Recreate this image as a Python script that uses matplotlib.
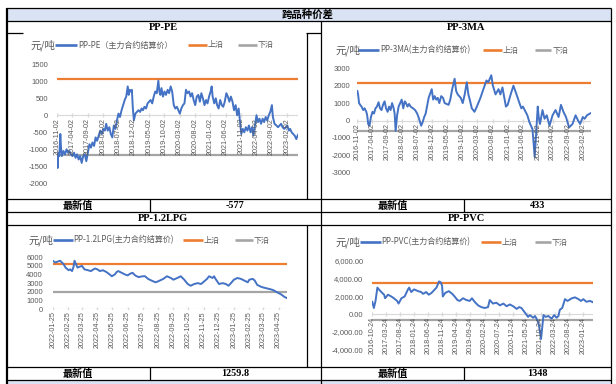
import matplotlib
matplotlib.use('Agg')
import matplotlib.pyplot as plt
import matplotlib.transforms as mtransforms
import pandas as pd

# ---------------- data ----------------
section_title = "跨品种价差"
chart_titles = ["PP-PE", "PP-3MA", "PP-1.2LPG", "PP-PVC"]
series_names = ["PP-PE（主力合约结算价）", "PP-3MA(主力合约结算价)",
                "PP-1.2LPG(主力合约结算价)", "PP-PVC(主力合约结算价)"]
latest_label = "最新值"
latest_values = ["-577", "433", "1259.8", "1348"]
unit_label = "元/吨"
upper_name = "上沿"
lower_name = "下沿"

pe_dates = ["2016-11-02", "2016-11-08", "2016-11-15", "2016-11-25", "2016-12-05", "2016-12-12", "2016-12-20",
            "2017-01-05", "2017-01-20", "2017-02-05", "2017-02-20", "2017-03-05", "2017-03-20", "2017-04-05",
            "2017-04-20", "2017-05-05", "2017-05-20", "2017-06-05", "2017-06-20", "2017-07-05", "2017-07-20",
            "2017-08-05", "2017-08-20", "2017-09-05", "2017-09-20", "2017-10-05", "2017-10-20", "2017-11-05",
            "2017-11-20", "2017-12-05", "2017-12-20", "2018-01-05", "2018-01-20", "2018-02-05", "2018-02-20",
            "2018-03-05", "2018-03-20", "2018-04-05", "2018-04-20", "2018-05-05", "2018-05-20", "2018-06-05",
            "2018-06-20", "2018-07-05", "2018-07-20", "2018-08-05", "2018-08-20", "2018-09-05", "2018-09-20",
            "2018-10-05", "2018-10-15", "2018-10-25", "2018-11-05", "2018-11-15", "2018-11-25", "2018-12-05",
            "2018-12-20", "2019-01-05", "2019-01-20", "2019-02-05", "2019-02-20", "2019-03-05", "2019-03-20",
            "2019-04-05", "2019-04-20", "2019-05-05", "2019-05-20", "2019-06-05", "2019-06-20", "2019-07-05",
            "2019-07-20", "2019-08-05", "2019-08-15", "2019-08-25", "2019-09-05", "2019-09-20", "2019-10-05",
            "2019-10-20", "2019-11-05", "2019-11-20", "2019-12-05", "2019-12-20", "2020-01-05", "2020-01-20",
            "2020-02-05", "2020-02-20", "2020-03-05", "2020-03-20", "2020-04-05", "2020-04-20", "2020-05-05",
            "2020-05-20", "2020-06-05", "2020-06-20", "2020-07-05", "2020-07-20", "2020-08-05", "2020-08-20",
            "2020-09-05", "2020-09-20", "2020-10-05", "2020-10-20", "2020-11-05", "2020-11-20", "2020-12-05",
            "2020-12-20", "2021-01-05", "2021-01-15", "2021-01-25", "2021-02-10", "2021-02-25", "2021-03-10",
            "2021-03-25", "2021-04-10", "2021-04-25", "2021-05-10", "2021-05-25", "2021-06-10", "2021-06-25",
            "2021-07-10", "2021-07-25", "2021-08-10", "2021-08-25", "2021-09-10", "2021-09-25", "2021-10-10",
            "2021-10-25", "2021-11-05", "2021-11-20", "2021-12-05", "2021-12-20", "2022-01-05", "2022-01-20",
            "2022-02-05", "2022-02-20", "2022-03-05", "2022-03-20", "2022-04-05", "2022-04-20", "2022-05-05",
            "2022-05-20", "2022-06-05", "2022-06-20", "2022-07-05", "2022-07-20", "2022-08-05", "2022-08-20",
            "2022-09-05", "2022-09-15", "2022-10-01", "2022-10-20", "2022-11-05", "2022-11-20", "2022-12-05",
            "2022-12-20", "2023-01-05", "2023-01-20", "2023-02-05", "2023-02-20", "2023-03-05", "2023-03-20",
            "2023-04-05", "2023-04-20", "2023-05-05", "2023-05-15", "2023-05-22"]
pe_values = [-1250, -1550, -1100, -1200, -550, -950, -1200,
             -1050, -1150, -1000, -1100, -1050, -1150, -1200,
             -1100, -1250, -1150, -1300, -1200, -1400, -1200,
             -1150, -1350, -1100, -850, -950, -800, -900,
             -650, -750, -600, -450, -550, -400, -450,
             -250, -450, -350, -550, -650, -300, -400,
             -150, 50, -50, 150, 300, 450, 550,
             850, 600, 750, 700, 750, 200, -150,
             50, 100, 150, 100, 200, 150, 250,
             200, 350, 400, 450, 350, 550, 700,
             650, 1020, 700, 600, 800, 550, 700,
             600, 750, 650, 850, 700, 300, 200,
             250, 150, 50, 200, 300, 350, 750,
             650, 700, 550, 650, 450, 300, 550,
             600, 400, 650, 500, 300, 450, 350,
             550, 700, 850, 550, 350, 500, 300,
             200, 450, 300, 250, 400, 650, 550,
             400, 550, 400, 150, 300, 0, 200,
             -250, -550, -400, -500, -350, -450, -300,
             -500, -350, -600, -300, 0, -200, -100,
             -250, -100, -200, -50, -150, 0, 100,
             300, -50, -250, -300, -350, -300, -250,
             -350, -400, -350, -300, -450, -400, -500,
             -550, -600, -700, -620, -577]
pe_upper = 1070
pe_lower = -1180
pe_yticks = [-2000, -1500, -1000, -500, 0, 500, 1000, 1500]
pe_ylabels = ["-2000", "-1500", "-1000", "-500", "0", "500", "1000", "1500"]

ma_dates = ["2016-11-02", "2016-11-10", "2016-11-20", "2016-12-01", "2016-12-15", "2017-01-01", "2017-01-15",
            "2017-02-01", "2017-02-10", "2017-02-20", "2017-03-05", "2017-03-20", "2017-04-05", "2017-04-20",
            "2017-05-05", "2017-05-20", "2017-06-05", "2017-06-20", "2017-07-05", "2017-07-20", "2017-08-05",
            "2017-08-20", "2017-09-05", "2017-09-20", "2017-10-05", "2017-10-20", "2017-11-05", "2017-11-15",
            "2017-11-25", "2017-12-10", "2017-12-25", "2018-01-10", "2018-01-25", "2018-02-10", "2018-02-25",
            "2018-03-10", "2018-03-25", "2018-04-10", "2018-04-25", "2018-05-20", "2018-06-10", "2018-07-01",
            "2018-07-20", "2018-08-10", "2018-08-25", "2018-09-10", "2018-09-25", "2018-10-25", "2018-11-25",
            "2018-12-10", "2018-12-25", "2019-01-10", "2019-01-25", "2019-02-10", "2019-03-01", "2019-03-20",
            "2019-04-05", "2019-05-15", "2019-06-01", "2019-06-20", "2019-07-15", "2019-07-30", "2019-08-15",
            "2019-09-15", "2019-10-05", "2019-10-25", "2019-11-15", "2019-12-01", "2019-12-15", "2020-01-05",
            "2020-02-01", "2020-02-25", "2020-04-01", "2020-05-01", "2020-06-01", "2020-06-20", "2020-07-20",
            "2020-08-05", "2020-09-01", "2020-10-01", "2020-10-20", "2020-11-10", "2020-12-15", "2021-01-02",
            "2021-02-01", "2021-03-01", "2021-04-01", "2021-05-01", "2021-05-20", "2021-06-05", "2021-07-20",
            "2021-08-10", "2021-09-10", "2021-10-02", "2021-10-12", "2021-11-02", "2021-11-12", "2021-11-25",
            "2021-12-20", "2022-01-10", "2022-02-01", "2022-03-01", "2022-04-01", "2022-05-01", "2022-06-01",
            "2022-06-25", "2022-07-20", "2022-08-15", "2022-09-15", "2022-10-20", "2022-11-20", "2022-12-15",
            "2023-01-05", "2023-02-01", "2023-02-20", "2023-03-15", "2023-04-25"]
ma_values = [1700, 1500, 1000, 900, 800, 600, 700,
             500, 300, -200, -300, 200, 500, 400,
             700, 800, 1050, 700, 600, 900, 1100,
             700, 500, 800, 600, 1000, 700, 400,
             -600, 300, 800, 1000, 1200, 700, 1100,
             1000, 800, 950, 800, 700, 600, 400,
             100, -300, -100, 200, 400, 1300, 1800,
             1200, 1400, 1200, 1300, 1000, 1400, 1300,
             1000, 900, 1200, 1800, 2400, 1700, 1500,
             1300, 1000, 1500, 2200, 1500, 1200, 700,
             500, 800, 1300, 1800, 2300, 2200, 2600,
             2000, 1500, 1800, 1500, 1900, 800, 900,
             1500, 2000, 1500, 1000, 700, 800, 300,
             -100, -500, -2100, -1200, 800, 200, -200,
             600, 100, 300, -300, 300, 600, 200,
             900, 500, 200, -400, -200, 300, 0,
             -200, 200, 100, 300, 433]
ma_upper = 2150
ma_lower = -600
ma_yticks = [-3000, -2000, -1000, 0, 1000, 2000, 3000]
ma_ylabels = ["-3000", "-2000", "-1000", "0", "1000", "2000", "3000"]

date_ticks_a = ["2016-11-02", "2017-04-02", "2017-09-02", "2018-02-02", "2018-07-02", "2018-12-02",
                "2019-05-02", "2019-10-02", "2020-03-02", "2020-08-02", "2021-01-02", "2021-06-02",
                "2021-11-02", "2022-04-02", "2022-09-02", "2023-02-02"]

lpg_dates = ["2022-01-25", "2022-01-30", "2022-02-04", "2022-02-09", "2022-02-16", "2022-02-20", "2022-02-26",
             "2022-03-01", "2022-03-05", "2022-03-08", "2022-03-10", "2022-03-13", "2022-03-16", "2022-03-20",
             "2022-03-25", "2022-03-30", "2022-04-06", "2022-04-12", "2022-04-20", "2022-04-25", "2022-04-30",
             "2022-05-06", "2022-05-13", "2022-05-20", "2022-05-24", "2022-05-30", "2022-06-03", "2022-06-06",
             "2022-06-13", "2022-06-20", "2022-06-25", "2022-06-30", "2022-07-05", "2022-07-10", "2022-07-17",
             "2022-07-25", "2022-07-30", "2022-08-05", "2022-08-12", "2022-08-20", "2022-08-25", "2022-09-05",
             "2022-09-12", "2022-09-20", "2022-09-25", "2022-10-03", "2022-10-10", "2022-10-17", "2022-10-24",
             "2022-10-30", "2022-11-06", "2022-11-13", "2022-11-20", "2022-11-26", "2022-12-02", "2022-12-06",
             "2022-12-13", "2022-12-16", "2022-12-19", "2022-12-26", "2023-01-02", "2023-01-09", "2023-01-14",
             "2023-01-19", "2023-01-25", "2023-02-01", "2023-02-08", "2023-02-15", "2023-02-22", "2023-02-25",
             "2023-03-04", "2023-03-08", "2023-03-13", "2023-03-20", "2023-03-25", "2023-04-01", "2023-04-08",
             "2023-04-14", "2023-04-20", "2023-04-30", "2023-05-07", "2023-05-12"]
lpg_values = [5600, 5400, 5500, 5600, 5200, 4800, 4500,
              4600, 4400, 4900, 5600, 5200, 4800, 4900,
              5000, 4600, 4500, 4400, 4700, 4600, 4400,
              4500, 4300, 4000, 3800, 4000, 4300, 4400,
              4200, 4000, 3900, 4100, 4200, 3900, 3700,
              3800, 3800, 3500, 3300, 3100, 3200, 3500,
              3800, 3600, 3400, 3600, 3800, 3400, 2900,
              2700, 2900, 3000, 2900, 3200, 3500, 3800,
              3600, 3800, 3500, 2900, 3000, 2900, 2700,
              3000, 3400, 3600, 3500, 3300, 3100, 3400,
              3500, 3300, 2800, 2600, 2500, 2400, 2300,
              2200, 2000, 1700, 1400, 1260]
lpg_upper = 5200
lpg_lower = 2000
lpg_yticks = [0, 1000, 2000, 3000, 4000, 5000, 6000]
lpg_ylabels = ["0", "1000", "2000", "3000", "4000", "5000", "6000"]
date_ticks_c = ["2022-01-25", "2022-02-25", "2022-03-25", "2022-04-25", "2022-05-25", "2022-06-25",
                "2022-07-25", "2022-08-25", "2022-09-25", "2022-10-25", "2022-11-25", "2022-12-25",
                "2023-01-25", "2023-02-25", "2023-03-25", "2023-04-25"]

pvc_dates = ["2016-10-24", "2016-11-10", "2016-11-28", "2016-12-18", "2017-01-12", "2017-01-30", "2017-03-01",
             "2017-03-12", "2017-04-12", "2017-05-18", "2017-06-15", "2017-07-20", "2017-08-05", "2017-09-05",
             "2017-10-10", "2017-11-15", "2017-11-28", "2017-12-20", "2018-01-20", "2018-03-05", "2018-04-08",
             "2018-04-28", "2018-06-01", "2018-06-28", "2018-07-28", "2018-08-24", "2018-09-20", "2018-10-18",
             "2018-11-05", "2018-11-20", "2018-11-28", "2018-12-24", "2019-02-01", "2019-03-10", "2019-04-05",
             "2019-05-05", "2019-05-30", "2019-07-05", "2019-08-10", "2019-09-15", "2019-10-10", "2019-11-08",
             "2019-12-15", "2020-01-20", "2020-02-25", "2020-04-01", "2020-04-20", "2020-05-25", "2020-07-01",
             "2020-08-08", "2020-09-15", "2020-10-20", "2020-11-24", "2020-12-30", "2021-02-05", "2021-03-05",
             "2021-03-30", "2021-05-05", "2021-06-10", "2021-06-28", "2021-08-05", "2021-08-24", "2021-09-20",
             "2021-10-05", "2021-10-28", "2021-11-12", "2021-11-24", "2021-12-18", "2022-01-15", "2022-02-20",
             "2022-03-20", "2022-04-15", "2022-05-05", "2022-05-20", "2022-06-15", "2022-07-15", "2022-08-12",
             "2022-09-28", "2022-11-01", "2022-12-08", "2023-01-05", "2023-01-30", "2023-03-05", "2023-04-12",
             "2023-05-15"]
pvc_values = [1400, 700, 1500, 3000, 2700, 2500, 2200,
              1800, 2200, 2000, 1800, 1500, 1200, 1800,
              2000, 2800, 3000, 2500, 2800, 2600, 2500,
              2300, 2500, 2200, 2400, 2700, 3000, 3700,
              3600, 3200, 2000, 2400, 2600, 2300, 2000,
              1600, 1500, 1800, 1600, 1500, 1800, 1400,
              1000, 800, 700, 800, 1600, 1200, 1300,
              1000, 1200, 900, 1100, 900, 600, 800,
              700, 200, -300, -100, -400, -200, -700,
              -1200, -2800, -1300, -100, -300, -200, -500,
              -100, -400, -200, 500, 700, 1700, 1500,
              1800, 1900, 1700, 1500, 1700, 1400, 1500,
              1348]
pvc_upper = 3500
pvc_lower = -700
pvc_yticks = [-4000, -2000, 0, 2000, 4000, 6000]
pvc_ylabels = ["-4,000.00", "-2,000.00", "0.00", "2,000.00", "4,000.00", "6,000.00"]
date_ticks_d = ["2016-10-24", "2017-03-24", "2017-08-24", "2018-01-24", "2018-06-24", "2018-11-24",
                "2019-04-24", "2019-09-24", "2020-02-24", "2020-07-24", "2020-12-24", "2021-05-24",
                "2021-10-24", "2022-03-24", "2022-08-24", "2023-01-24"]

# ---------------- style ----------------
BLUE = "#4472C4"
ORANGE = "#ED7D31"
GREY = "#A5A5A5"
TXT = "#595959"
BAND = "#DAE3F3"
CJK = ["Noto Sans CJK SC", "DejaVu Sans"]
TAB = ["Liberation Serif", "Noto Sans CJK SC"]

W, H = 616, 384
fig = plt.figure(figsize=(W / 100, H / 100), dpi=100)

tab = fig.add_axes([0, 0, 1, 1], zorder=0)
tab.set_xlim(0, W)
tab.set_ylim(H, 0)
tab.axis("off")


def px_axes(x0, y0, x1, y1):
    return fig.add_axes([x0 / W, 1 - y1 / H, (x1 - x0) / W, (y1 - y0) / H], zorder=1)


# table structure
tab.add_patch(plt.Rectangle((6, 8), 605, 13, facecolor=BAND, edgecolor="none"))
tab.add_patch(plt.Rectangle((6, 380), 605, 6, facecolor=BAND, edgecolor="none"))
hl = [(8, 6, 611), (21, 6, 611), (33, 6, 23), (33, 306, 321), (199, 6, 611), (212, 6, 611), (225, 6, 611),
      (367, 6, 611), (380, 6, 611)]
for y, x0, x1 in hl:
    tab.plot([x0, x1], [y, y], color="black", lw=0.9, solid_capstyle="butt")
vl = [(321, 21, 384), (611, 8, 384), (307, 33, 199), (307, 225, 367), (150, 199, 212), (464, 199, 212),
      (150, 367, 380), (464, 367, 380)]
for x, y0, y1 in vl:
    tab.plot([x, x], [y0, y1], color="black", lw=0.9, solid_capstyle="butt")
tab.plot([6.5, 6.5], [8, 384], color="black", lw=1.6, solid_capstyle="butt")

bold = dict(fontweight="bold", ha="center", va="center", color="black")
tab.text(308, 14.5, section_title, fontsize=7.5, family=CJK, **bold)
for (cx, cy), t in zip([(163.5, 27), (466, 27), (163.5, 218.5), (466, 218.5)], chart_titles):
    tab.text(cx, cy, t, fontsize=7.5, family=TAB, **bold)
for (lx, vx, cy), v in zip([(78, 235.5, 205.8), (392.5, 537.5, 205.8), (78, 235.5, 373.5), (392.5, 537.5, 373.5)],
                           latest_values):
    tab.text(lx, cy, latest_label, fontsize=7.3, family=CJK, **bold)
    tab.text(vx, cy, v, fontsize=7.3, family=TAB, **bold)


def legend(y, ux, bl, bt, ol, ot, gl, gt, name):
    tab.text(ux, y, unit_label, fontsize=7.5, color=TXT, family=CJK, ha="left", va="center")
    for (x0, x1), c in zip([bl, ol, gl], [BLUE, ORANGE, GREY]):
        tab.plot([x0, x1], [y, y], color=c, lw=1.9, solid_capstyle="butt")
    for x, t in zip([bt, ot, gt], [name, upper_name, lower_name]):
        tab.text(x, y, t, fontsize=5.8, color=TXT, family=CJK, ha="left", va="center")


legend(45, 30, (55, 77), 78, (188, 207), 208, (238, 257), 258, series_names[0])
legend(50, 335, (358, 379), 380, (483, 502), 503, (535, 551), 553, series_names[1])
legend(240, 28, (53, 73), 73, (183, 203), 204, (235, 253), 254, series_names[2])
legend(242, 335, (360, 381), 381, (481, 501), 502, (535, 551), 552, series_names[3])


def chart(rect, dates, vals, upper, lower, yticks, ylabels, tick_dates, pad):
    ax = px_axes(*rect)
    ax.set_facecolor("none")
    d = pd.to_datetime(dates)
    ax.axhline(0, color="#D9D9D9", lw=0.8, zorder=1)
    ax.plot([d[0], d[-1]], [upper, upper], color=ORANGE, lw=1.6, zorder=2)
    ax.plot([d[0], d[-1]], [lower, lower], color=GREY, lw=1.6, zorder=2)
    ax.plot(d, vals, color=BLUE, lw=1.4, zorder=3)
    ax.set_xlim(d[0], d[-1])
    ax.set_ylim(yticks[0], yticks[-1])
    ax.set_yticks(yticks)
    ax.set_yticklabels(ylabels, family="Liberation Sans")
    ax.tick_params(axis="y", length=0, pad=pad, labelsize=5.5, labelcolor=TXT)
    ax.set_xticks([])
    for s in ax.spines.values():
        s.set_visible(False)
    off = mtransforms.offset_copy(ax.transData, fig=fig, x=0, y=-2.5, units="dots")
    tks = pd.to_datetime(tick_dates)
    for t, lab in zip(tks, tick_dates):
        ax.text(t, 0, lab, rotation=90, ha="center", va="top", fontsize=5.2, color=TXT,
                family="Liberation Sans", transform=off, zorder=4)
    ax.plot(tks, [0] * len(tks), linestyle="none", marker="|", markersize=2.5, color="#D9D9D9", zorder=1)
    return ax


chart((57, 64.3, 298, 183.3), pe_dates, pe_values, pe_upper, pe_lower, pe_yticks, pe_ylabels, date_ticks_a, 6.5)
chart((357.3, 68.3, 591, 172.7), ma_dates, ma_values, ma_upper, ma_lower, ma_yticks, ma_ylabels, date_ticks_a, 5)
chart((52.7, 257.3, 287, 309), lpg_dates, lpg_values, lpg_upper, lpg_lower, lpg_yticks, lpg_ylabels,
      date_ticks_c, 7)
chart((372.3, 261, 593, 349.7), pvc_dates, pvc_values, pvc_upper, pvc_lower, pvc_yticks, pvc_ylabels,
      date_ticks_d, 6.5)

fig.savefig("out.png", dpi=100)
